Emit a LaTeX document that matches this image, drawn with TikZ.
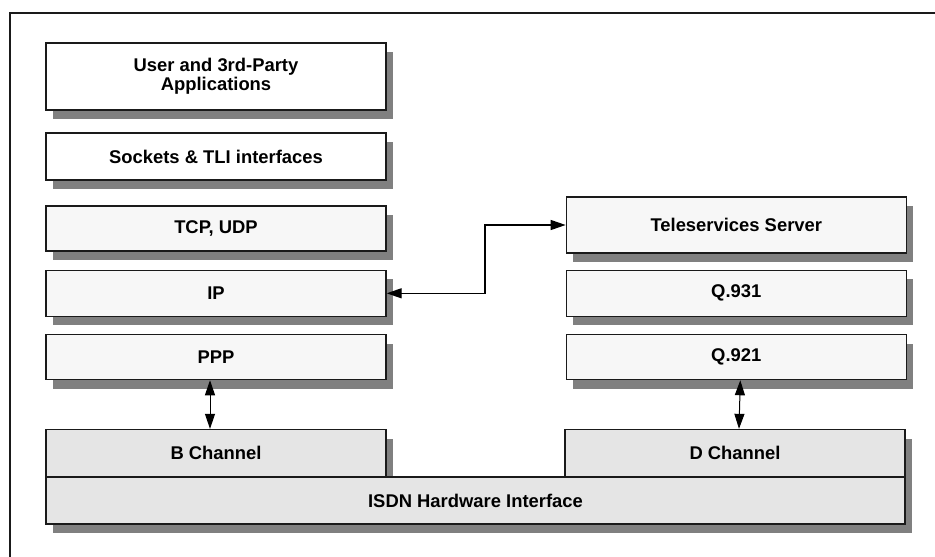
\documentclass[tikz,border=0pt]{standalone}
\usepackage{fontspec}
\setmainfont{Liberation Sans}
\usetikzlibrary{positioning,shadows,arrows.meta}
\definecolor{shadowgray}{HTML}{808080}
\definecolor{midfill}{HTML}{F7F7F7}
\definecolor{lowfill}{HTML}{E5E5E5}
\definecolor{edgegray}{HTML}{1A1A1A}
\tikzset{
  layer/.style={ % image of one protocol layer
    draw=edgegray, line width=1.3pt, rectangle,
    minimum width=340pt, minimum height=46pt, inner sep=0pt,
    fill=midfill, text=black, align=center,
    font=\fontsize{18.4}{19}\selectfont\bfseries,
    drop shadow={shadow xshift=7pt, shadow yshift=-9pt,
      fill=shadowgray, opacity=1}
  },
  applayer/.style={ % image of an upper (application) layer
    layer, fill=white
  },
  hwlayer/.style={ % image of a hardware layer
    layer, fill=lowfill
  },
  dbl/.style={ % two-headed connector
    <->, >={Triangle[length=15pt,width=10pt]}, line width=1pt, black
  }
}

\begin{document}
\begin{tikzpicture}[x=1pt, y=-1pt]
  \useasboundingbox (0,0) rectangle (935,557);
  \draw[line width=1.3pt, edgegray] (10,557) -- (10,13) -- (935,13);

  % left stack
  \node[applayer, minimum height=67pt] (app) at (216,76.5) {User and 3rd-Party\\Applications};
  \node[applayer, minimum height=47pt] (sockets) at (216,156.5) {Sockets \& TLI interfaces};
  \node[layer, minimum height=45pt] (tcp) at (216,228.5) {TCP, UDP};
  \node[layer] (ip) [below=18pt of tcp] {IP};
  \node[layer, minimum height=45pt] (ppp) [below=17pt of ip] {PPP};

  % right stack
  \node[layer] (q931) [right=179pt of ip] {Q.931};
  \node[layer, minimum height=56pt] (tele) [above=16pt of q931] {Teleservices Server};
  \node[layer, minimum height=45pt] (q921) [below=17pt of q931] {Q.921};

  % hardware
  \node[hwlayer, minimum height=47pt] (bch) at (216,453) {B Channel};
  \node[hwlayer, minimum height=47pt] (dch) at (735,453) {D Channel};
  \node[hwlayer, minimum width=859pt, minimum height=47pt] (isdn) at (475.5,500.5) {ISDN Hardware Interface};

  \coordinate (jog) at (485,0);
  \draw[dbl, line width=1.3pt] (ip.east) -- (ip.east -| jog) -- (jog |- tele.west) -- (tele.west);
  \draw[dbl] ([xshift=-6pt]ppp.south) -- ([xshift=-6pt]bch.north);
  \draw[dbl] ([xshift=4pt]q921.south) -- ([xshift=4pt]dch.north);
\end{tikzpicture}
\end{document}
